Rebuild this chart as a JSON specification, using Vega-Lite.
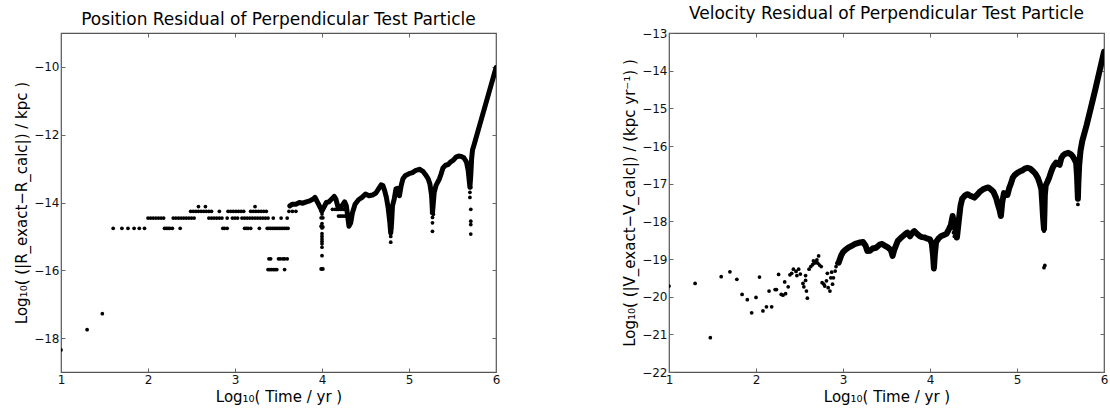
{
  "$schema": "https://vega.github.io/schema/vega-lite/v6.json",
  "background": "white",
  "padding": {"left": 14, "top": 4, "right": 6, "bottom": 4},
  "spacing": 121,
  "config": {
    "font": "DejaVu Sans",
    "view": {"stroke": "#555", "strokeWidth": 1.2},
    "axis": {"grid": false, "domain": false, "tickColor": "#666", "tickSize": -4, "labelColor": "#111", "labelFontSize": 12, "labelFont": "DejaVu Sans", "titleFont": "DejaVu Sans", "titleFontSize": 15, "titleFontWeight": "normal", "titleColor": "#000", "labelFlush": false, "labelOverlap": false, "labelPadding": 6},
    "title": {"fontSize": 17, "fontWeight": "normal", "color": "#000", "font": "DejaVu Sans", "offset": 4}
  },
  "datasets": {
    "posLine": [
      {"logt": 3.63, "logr": -14.1}, {"logt": 3.66, "logr": -14.05}, {"logt": 3.70, "logr": -14.05}, {"logt": 3.74, "logr": -14.0}, {"logt": 3.78, "logr": -14.02}, {"logt": 3.82, "logr": -13.98}, {"logt": 3.86, "logr": -13.95}, {"logt": 3.90, "logr": -13.9}, {"logt": 3.92, "logr": -13.85}, {"logt": 3.94, "logr": -13.95}, {"logt": 3.96, "logr": -14.05}, {"logt": 3.98, "logr": -14.15}, {"logt": 4.0, "logr": -14.25}, {"logt": 4.02, "logr": -14.15}, {"logt": 4.05, "logr": -14.0}, {"logt": 4.08, "logr": -13.98}, {"logt": 4.11, "logr": -13.9}, {"logt": 4.14, "logr": -13.82}, {"logt": 4.16, "logr": -13.9}, {"logt": 4.18, "logr": -14.1}, {"logt": 4.20, "logr": -14.15}, {"logt": 4.23, "logr": -14.1}, {"logt": 4.26, "logr": -13.98}, {"logt": 4.28, "logr": -14.1}, {"logt": 4.30, "logr": -14.5}, {"logt": 4.31, "logr": -14.7}, {"logt": 4.33, "logr": -14.6}, {"logt": 4.35, "logr": -14.3}, {"logt": 4.38, "logr": -14.05}, {"logt": 4.42, "logr": -13.92}, {"logt": 4.46, "logr": -13.85}, {"logt": 4.50, "logr": -13.75}, {"logt": 4.54, "logr": -13.8}, {"logt": 4.58, "logr": -13.78}, {"logt": 4.62, "logr": -13.72}, {"logt": 4.65, "logr": -13.6}, {"logt": 4.68, "logr": -13.48}, {"logt": 4.70, "logr": -13.5}, {"logt": 4.72, "logr": -13.65}, {"logt": 4.74, "logr": -13.85}, {"logt": 4.76, "logr": -14.15}, {"logt": 4.78, "logr": -14.6}, {"logt": 4.79, "logr": -14.9}, {"logt": 4.80, "logr": -14.6}, {"logt": 4.81, "logr": -14.1}, {"logt": 4.83, "logr": -13.9}, {"logt": 4.85, "logr": -13.6}, {"logt": 4.87, "logr": -13.58}, {"logt": 4.89, "logr": -13.8}, {"logt": 4.91, "logr": -13.5}, {"logt": 4.93, "logr": -13.3}, {"logt": 4.96, "logr": -13.2}, {"logt": 5.0, "logr": -13.15}, {"logt": 5.04, "logr": -13.12}, {"logt": 5.08, "logr": -13.05}, {"logt": 5.12, "logr": -13.02}, {"logt": 5.16, "logr": -13.08}, {"logt": 5.19, "logr": -13.18}, {"logt": 5.22, "logr": -13.3}, {"logt": 5.24, "logr": -13.45}, {"logt": 5.26, "logr": -13.8}, {"logt": 5.27, "logr": -14.3}, {"logt": 5.28, "logr": -14.0}, {"logt": 5.29, "logr": -13.7}, {"logt": 5.31, "logr": -13.5}, {"logt": 5.33, "logr": -13.4}, {"logt": 5.35, "logr": -13.3}, {"logt": 5.37, "logr": -13.15}, {"logt": 5.39, "logr": -12.98}, {"logt": 5.42, "logr": -12.9}, {"logt": 5.45, "logr": -12.88}, {"logt": 5.48, "logr": -12.8}, {"logt": 5.51, "logr": -12.75}, {"logt": 5.54, "logr": -12.66}, {"logt": 5.57, "logr": -12.63}, {"logt": 5.60, "logr": -12.64}, {"logt": 5.63, "logr": -12.68}, {"logt": 5.66, "logr": -12.8}, {"logt": 5.68, "logr": -13.05}, {"logt": 5.69, "logr": -13.3}, {"logt": 5.70, "logr": -13.55}, {"logt": 5.71, "logr": -13.2}, {"logt": 5.72, "logr": -12.7}, {"logt": 5.73, "logr": -12.45}, {"logt": 5.75, "logr": -12.28}, {"logt": 5.80, "logr": -11.83}, {"logt": 5.85, "logr": -11.38}, {"logt": 5.90, "logr": -10.93}, {"logt": 5.95, "logr": -10.48}, {"logt": 6.0, "logr": -10.02}
    ],
    "posDots": [
      {"logt": 1.0, "logr": -18.35}, {"logt": 1.30, "logr": -17.75}, {"logt": 1.475, "logr": -17.28},
      {"logt": 1.60, "logr": -14.76}, {"logt": 1.70, "logr": -14.76}, {"logt": 1.77, "logr": -14.76}, {"logt": 1.84, "logr": -14.76}, {"logt": 1.90, "logr": -14.76}, {"logt": 1.96, "logr": -14.76}, {"logt": 2.19, "logr": -14.76}, {"logt": 2.21, "logr": -14.76}, {"logt": 2.23, "logr": -14.76}, {"logt": 2.25, "logr": -14.76}, {"logt": 2.28, "logr": -14.76}, {"logt": 2.37, "logr": -14.76}, {"logt": 2.86, "logr": -14.76}, {"logt": 2.88, "logr": -14.76}, {"logt": 2.91, "logr": -14.76}, {"logt": 3.11, "logr": -14.76}, {"logt": 3.13, "logr": -14.76}, {"logt": 3.15, "logr": -14.76}, {"logt": 3.18, "logr": -14.76}, {"logt": 3.28, "logr": -14.76}, {"logt": 3.37, "logr": -14.76}, {"logt": 3.39, "logr": -14.76}, {"logt": 3.41, "logr": -14.76}, {"logt": 3.43, "logr": -14.76}, {"logt": 3.45, "logr": -14.76}, {"logt": 3.47, "logr": -14.76}, {"logt": 3.49, "logr": -14.76}, {"logt": 3.51, "logr": -14.76}, {"logt": 3.53, "logr": -14.76}, {"logt": 3.55, "logr": -14.76}, {"logt": 3.57, "logr": -14.76}, {"logt": 3.59, "logr": -14.76}, {"logt": 3.61, "logr": -14.76},
      {"logt": 2.00, "logr": -14.46}, {"logt": 2.03, "logr": -14.46}, {"logt": 2.06, "logr": -14.46}, {"logt": 2.09, "logr": -14.46}, {"logt": 2.12, "logr": -14.46}, {"logt": 2.15, "logr": -14.46}, {"logt": 2.18, "logr": -14.46}, {"logt": 2.29, "logr": -14.46}, {"logt": 2.32, "logr": -14.46}, {"logt": 2.35, "logr": -14.46}, {"logt": 2.38, "logr": -14.46}, {"logt": 2.41, "logr": -14.46}, {"logt": 2.44, "logr": -14.46}, {"logt": 2.47, "logr": -14.46}, {"logt": 2.50, "logr": -14.46}, {"logt": 2.53, "logr": -14.46}, {"logt": 2.70, "logr": -14.46}, {"logt": 2.73, "logr": -14.46}, {"logt": 2.76, "logr": -14.46}, {"logt": 2.79, "logr": -14.46}, {"logt": 2.82, "logr": -14.46}, {"logt": 2.85, "logr": -14.46}, {"logt": 2.91, "logr": -14.46}, {"logt": 2.97, "logr": -14.46}, {"logt": 3.00, "logr": -14.46}, {"logt": 3.03, "logr": -14.46}, {"logt": 3.08, "logr": -14.46}, {"logt": 3.11, "logr": -14.46}, {"logt": 3.14, "logr": -14.46}, {"logt": 3.17, "logr": -14.46}, {"logt": 3.20, "logr": -14.46}, {"logt": 3.23, "logr": -14.46}, {"logt": 3.26, "logr": -14.46}, {"logt": 3.29, "logr": -14.46}, {"logt": 3.32, "logr": -14.46}, {"logt": 3.35, "logr": -14.46}, {"logt": 3.38, "logr": -14.46}, {"logt": 3.44, "logr": -14.46}, {"logt": 3.53, "logr": -14.46}, {"logt": 3.60, "logr": -14.46},
      {"logt": 2.49, "logr": -14.26}, {"logt": 2.52, "logr": -14.26}, {"logt": 2.55, "logr": -14.26}, {"logt": 2.58, "logr": -14.26}, {"logt": 2.61, "logr": -14.26}, {"logt": 2.64, "logr": -14.26}, {"logt": 2.67, "logr": -14.26}, {"logt": 2.70, "logr": -14.26}, {"logt": 2.73, "logr": -14.26}, {"logt": 2.82, "logr": -14.26}, {"logt": 2.92, "logr": -14.26}, {"logt": 2.95, "logr": -14.26}, {"logt": 2.98, "logr": -14.26}, {"logt": 3.01, "logr": -14.26}, {"logt": 3.04, "logr": -14.26}, {"logt": 3.07, "logr": -14.26}, {"logt": 3.10, "logr": -14.26}, {"logt": 3.18, "logr": -14.26}, {"logt": 3.21, "logr": -14.26}, {"logt": 3.24, "logr": -14.26}, {"logt": 3.27, "logr": -14.26}, {"logt": 3.30, "logr": -14.26}, {"logt": 3.33, "logr": -14.26}, {"logt": 3.36, "logr": -14.26}, {"logt": 3.62, "logr": -14.26}, {"logt": 3.66, "logr": -14.26}, {"logt": 3.70, "logr": -14.26},
      {"logt": 2.58, "logr": -14.12}, {"logt": 2.66, "logr": -14.12}, {"logt": 3.23, "logr": -14.12},
      {"logt": 3.39, "logr": -15.66}, {"logt": 3.41, "logr": -15.66}, {"logt": 3.50, "logr": -15.66}, {"logt": 3.52, "logr": -15.66}, {"logt": 3.55, "logr": -15.66}, {"logt": 3.57, "logr": -15.66}, {"logt": 3.60, "logr": -15.66},
      {"logt": 3.38, "logr": -15.98}, {"logt": 3.40, "logr": -15.98}, {"logt": 3.42, "logr": -15.98}, {"logt": 3.44, "logr": -15.98}, {"logt": 3.46, "logr": -15.98}, {"logt": 3.48, "logr": -15.98}, {"logt": 3.57, "logr": -15.98},
      {"logt": 3.99, "logr": -14.26}, {"logt": 4.0, "logr": -14.34}, {"logt": 3.99, "logr": -14.45}, {"logt": 4.01, "logr": -14.45}, {"logt": 4.0, "logr": -14.62}, {"logt": 3.99, "logr": -14.7}, {"logt": 4.0, "logr": -14.75}, {"logt": 4.01, "logr": -14.72}, {"logt": 4.0, "logr": -14.92}, {"logt": 4.0, "logr": -15.0}, {"logt": 4.0, "logr": -15.08}, {"logt": 4.0, "logr": -15.15}, {"logt": 4.0, "logr": -15.22}, {"logt": 4.0, "logr": -15.32}, {"logt": 4.0, "logr": -15.57}, {"logt": 3.99, "logr": -15.96}, {"logt": 4.0, "logr": -15.96}, {"logt": 4.01, "logr": -15.96},
      {"logt": 4.12, "logr": -14.2}, {"logt": 4.15, "logr": -14.2}, {"logt": 4.17, "logr": -14.2}, {"logt": 4.19, "logr": -14.2}, {"logt": 4.21, "logr": -14.2}, {"logt": 4.23, "logr": -14.2}, {"logt": 4.25, "logr": -14.2}, {"logt": 4.27, "logr": -14.2}, {"logt": 4.19, "logr": -14.4}, {"logt": 4.21, "logr": -14.4}, {"logt": 4.23, "logr": -14.4}, {"logt": 4.25, "logr": -14.4}, {"logt": 4.27, "logr": -14.4},
      {"logt": 4.79, "logr": -14.3}, {"logt": 4.78, "logr": -14.45}, {"logt": 4.79, "logr": -14.6}, {"logt": 4.8, "logr": -14.75}, {"logt": 4.79, "logr": -14.9}, {"logt": 4.79, "logr": -15.0}, {"logt": 4.79, "logr": -15.17},
      {"logt": 5.27, "logr": -13.7}, {"logt": 5.26, "logr": -13.85}, {"logt": 5.27, "logr": -14.0}, {"logt": 5.28, "logr": -14.1}, {"logt": 5.27, "logr": -14.2}, {"logt": 5.26, "logr": -14.3}, {"logt": 5.28, "logr": -14.35}, {"logt": 5.27, "logr": -14.44}, {"logt": 5.27, "logr": -14.6}, {"logt": 5.27, "logr": -14.85},
      {"logt": 5.70, "logr": -13.0}, {"logt": 5.70, "logr": -13.2}, {"logt": 5.70, "logr": -13.4}, {"logt": 5.71, "logr": -13.56}, {"logt": 5.70, "logr": -13.7}, {"logt": 5.70, "logr": -13.85}, {"logt": 5.71, "logr": -14.2}, {"logt": 5.71, "logr": -14.55}, {"logt": 5.71, "logr": -14.65}, {"logt": 5.71, "logr": -14.93}
    ],
    "velLine": [
      {"logt": 2.95, "logv": -19.1}, {"logt": 2.98, "logv": -18.9}, {"logt": 3.0, "logv": -18.82}, {"logt": 3.03, "logv": -18.75}, {"logt": 3.06, "logv": -18.7}, {"logt": 3.1, "logv": -18.65}, {"logt": 3.14, "logv": -18.6}, {"logt": 3.18, "logv": -18.57}, {"logt": 3.23, "logv": -18.55}, {"logt": 3.26, "logv": -18.65}, {"logt": 3.28, "logv": -18.79}, {"logt": 3.31, "logv": -18.78}, {"logt": 3.34, "logv": -18.72}, {"logt": 3.38, "logv": -18.7}, {"logt": 3.42, "logv": -18.62}, {"logt": 3.45, "logv": -18.6}, {"logt": 3.49, "logv": -18.66}, {"logt": 3.52, "logv": -18.7}, {"logt": 3.55, "logv": -18.76}, {"logt": 3.57, "logv": -18.92}, {"logt": 3.59, "logv": -18.75}, {"logt": 3.63, "logv": -18.52}, {"logt": 3.66, "logv": -18.45}, {"logt": 3.69, "logv": -18.39}, {"logt": 3.72, "logv": -18.33}, {"logt": 3.74, "logv": -18.3}, {"logt": 3.77, "logv": -18.4}, {"logt": 3.80, "logv": -18.3}, {"logt": 3.82, "logv": -18.26}, {"logt": 3.85, "logv": -18.33}, {"logt": 3.88, "logv": -18.39}, {"logt": 3.91, "logv": -18.42}, {"logt": 3.94, "logv": -18.43}, {"logt": 3.97, "logv": -18.46}, {"logt": 4.0, "logv": -18.48}, {"logt": 4.02, "logv": -18.58}, {"logt": 4.035, "logv": -18.9}, {"logt": 4.045, "logv": -19.25}, {"logt": 4.055, "logv": -18.9}, {"logt": 4.07, "logv": -18.55}, {"logt": 4.1, "logv": -18.45}, {"logt": 4.13, "logv": -18.39}, {"logt": 4.16, "logv": -18.36}, {"logt": 4.19, "logv": -18.33}, {"logt": 4.22, "logv": -18.2}, {"logt": 4.24, "logv": -18.1}, {"logt": 4.26, "logv": -17.86}, {"logt": 4.28, "logv": -18.1}, {"logt": 4.3, "logv": -18.3}, {"logt": 4.31, "logv": -18.43}, {"logt": 4.33, "logv": -18.0}, {"logt": 4.35, "logv": -17.6}, {"logt": 4.37, "logv": -17.4}, {"logt": 4.40, "logv": -17.32}, {"logt": 4.43, "logv": -17.28}, {"logt": 4.47, "logv": -17.33}, {"logt": 4.51, "logv": -17.37}, {"logt": 4.54, "logv": -17.3}, {"logt": 4.57, "logv": -17.22}, {"logt": 4.61, "logv": -17.15}, {"logt": 4.64, "logv": -17.12}, {"logt": 4.67, "logv": -17.1}, {"logt": 4.70, "logv": -17.15}, {"logt": 4.73, "logv": -17.22}, {"logt": 4.76, "logv": -17.38}, {"logt": 4.78, "logv": -17.55}, {"logt": 4.80, "logv": -17.7}, {"logt": 4.815, "logv": -17.86}, {"logt": 4.83, "logv": -17.5}, {"logt": 4.85, "logv": -17.25}, {"logt": 4.87, "logv": -17.3}, {"logt": 4.89, "logv": -17.3}, {"logt": 4.91, "logv": -17.12}, {"logt": 4.93, "logv": -17.0}, {"logt": 4.95, "logv": -16.85}, {"logt": 4.97, "logv": -16.78}, {"logt": 5.0, "logv": -16.72}, {"logt": 5.03, "logv": -16.68}, {"logt": 5.06, "logv": -16.65}, {"logt": 5.09, "logv": -16.6}, {"logt": 5.12, "logv": -16.58}, {"logt": 5.15, "logv": -16.6}, {"logt": 5.18, "logv": -16.66}, {"logt": 5.21, "logv": -16.73}, {"logt": 5.24, "logv": -16.85}, {"logt": 5.26, "logv": -16.98}, {"logt": 5.28, "logv": -17.15}, {"logt": 5.29, "logv": -17.5}, {"logt": 5.30, "logv": -17.9}, {"logt": 5.31, "logv": -18.2}, {"logt": 5.315, "logv": -17.8}, {"logt": 5.32, "logv": -17.3}, {"logt": 5.33, "logv": -17.05}, {"logt": 5.35, "logv": -16.95}, {"logt": 5.37, "logv": -16.84}, {"logt": 5.39, "logv": -16.7}, {"logt": 5.41, "logv": -16.58}, {"logt": 5.43, "logv": -16.5}, {"logt": 5.45, "logv": -16.44}, {"logt": 5.47, "logv": -16.48}, {"logt": 5.49, "logv": -16.5}, {"logt": 5.51, "logv": -16.32}, {"logt": 5.53, "logv": -16.25}, {"logt": 5.56, "logv": -16.2}, {"logt": 5.59, "logv": -16.18}, {"logt": 5.62, "logv": -16.22}, {"logt": 5.64, "logv": -16.27}, {"logt": 5.66, "logv": -16.35}, {"logt": 5.68, "logv": -16.45}, {"logt": 5.69, "logv": -16.8}, {"logt": 5.70, "logv": -17.4}, {"logt": 5.705, "logv": -17.0}, {"logt": 5.715, "logv": -16.5}, {"logt": 5.73, "logv": -16.13}, {"logt": 5.75, "logv": -15.87}, {"logt": 5.80, "logv": -15.45}, {"logt": 5.85, "logv": -14.98}, {"logt": 5.90, "logv": -14.5}, {"logt": 5.95, "logv": -14.0}, {"logt": 6.0, "logv": -13.5}
    ],
    "velDots": [
      {"logt": 1.0, "logv": -19.72}, {"logt": 1.30, "logv": -19.65}, {"logt": 1.475, "logv": -21.09}, {"logt": 1.60, "logv": -19.47}, {"logt": 1.70, "logv": -19.34}, {"logt": 1.78, "logv": -19.54}, {"logt": 1.84, "logv": -19.94}, {"logt": 1.90, "logv": -20.08}, {"logt": 1.95, "logv": -20.43}, {"logt": 2.00, "logv": -20.02}, {"logt": 2.04, "logv": -19.48}, {"logt": 2.08, "logv": -20.38}, {"logt": 2.12, "logv": -20.27}, {"logt": 2.15, "logv": -19.85}, {"logt": 2.18, "logv": -20.27}, {"logt": 2.22, "logv": -19.81}, {"logt": 2.235, "logv": -19.81}, {"logt": 2.26, "logv": -19.41}, {"logt": 2.29, "logv": -19.94}, {"logt": 2.31, "logv": -19.96}, {"logt": 2.33, "logv": -19.61}, {"logt": 2.34, "logv": -19.92}, {"logt": 2.37, "logv": -19.74}, {"logt": 2.39, "logv": -19.42}, {"logt": 2.41, "logv": -19.38}, {"logt": 2.43, "logv": -19.27}, {"logt": 2.46, "logv": -19.33}, {"logt": 2.47, "logv": -19.44}, {"logt": 2.49, "logv": -19.27}, {"logt": 2.51, "logv": -19.4}, {"logt": 2.54, "logv": -19.65}, {"logt": 2.55, "logv": -19.74}, {"logt": 2.57, "logv": -19.57}, {"logt": 2.58, "logv": -19.85}, {"logt": 2.59, "logv": -20.04}, {"logt": 2.57, "logv": -19.44},
      {"logt": 2.61, "logv": -19.27}, {"logt": 2.63, "logv": -19.2}, {"logt": 2.65, "logv": -19.15}, {"logt": 2.67, "logv": -19.11}, {"logt": 2.69, "logv": -19.07}, {"logt": 2.71, "logv": -19.11}, {"logt": 2.72, "logv": -18.92}, {"logt": 2.73, "logv": -19.16}, {"logt": 2.75, "logv": -19.2}, {"logt": 2.66, "logv": -19.05}, {"logt": 2.70, "logv": -19.02},
      {"logt": 2.76, "logv": -19.63}, {"logt": 2.78, "logv": -19.67}, {"logt": 2.79, "logv": -19.72}, {"logt": 2.81, "logv": -19.58}, {"logt": 2.82, "logv": -19.38}, {"logt": 2.83, "logv": -19.76}, {"logt": 2.85, "logv": -19.85}, {"logt": 2.86, "logv": -19.5}, {"logt": 2.87, "logv": -19.35}, {"logt": 2.88, "logv": -19.67}, {"logt": 2.89, "logv": -19.5}, {"logt": 2.91, "logv": -19.32}, {"logt": 2.92, "logv": -19.2}, {"logt": 2.93, "logv": -19.11}, {"logt": 2.95, "logv": -19.02}, {"logt": 2.97, "logv": -18.95}, {"logt": 2.99, "logv": -18.9},
      {"logt": 4.04, "logv": -19.0}, {"logt": 4.045, "logv": -19.1}, {"logt": 4.05, "logv": -19.2}, {"logt": 4.045, "logv": -19.27},
      {"logt": 4.25, "logv": -17.95}, {"logt": 4.26, "logv": -18.1}, {"logt": 4.27, "logv": -18.3}, {"logt": 4.28, "logv": -18.4}, {"logt": 4.30, "logv": -18.45},
      {"logt": 4.81, "logv": -17.7}, {"logt": 4.82, "logv": -17.8}, {"logt": 4.815, "logv": -17.86},
      {"logt": 5.30, "logv": -17.6}, {"logt": 5.31, "logv": -17.75}, {"logt": 5.30, "logv": -17.9}, {"logt": 5.31, "logv": -18.05}, {"logt": 5.32, "logv": -18.15}, {"logt": 5.31, "logv": -18.26}, {"logt": 5.31, "logv": -19.23}, {"logt": 5.32, "logv": -19.17},
      {"logt": 5.70, "logv": -16.9}, {"logt": 5.69, "logv": -17.1}, {"logt": 5.70, "logv": -17.25}, {"logt": 5.70, "logv": -17.4}, {"logt": 5.70, "logv": -17.55}
    ]
  },
  "hconcat": [
    {
      "width": 435, "height": 339,
      "title": "Position Residual of Perpendicular Test Particle",
      "resolve": {"axis": {"x": "independent", "y": "independent"}},
      "layer": [
        {
          "data": {"name": "posLine"},
          "mark": {"type": "line", "color": "#000", "strokeWidth": 5, "strokeCap": "round", "strokeJoin": "round", "clip": true},
          "encoding": {
            "x": {"field": "logt", "type": "quantitative", "scale": {"domain": [1, 6], "nice": false, "zero": false}, "axis": {"orient": "bottom", "values": [1, 2, 3, 4, 5, 6], "title": "Log₁₀( Time / yr )", "format": "d"}},
            "y": {"field": "logr", "type": "quantitative", "scale": {"domain": [-19, -9], "nice": false, "zero": false}, "axis": {"orient": "left", "values": [-10, -12, -14, -16, -18], "title": "Log₁₀( (|R_exact−R_calc|) / kpc )", "format": "d"}}
          }
        },
        {
          "data": {"name": "posDots"},
          "mark": {"type": "circle", "color": "#000", "size": 14, "opacity": 1, "clip": true},
          "encoding": {
            "x": {"field": "logt", "type": "quantitative", "axis": {"orient": "top", "values": [1, 2, 3, 4, 5, 6], "labels": false, "title": null}},
            "y": {"field": "logr", "type": "quantitative", "axis": {"orient": "right", "values": [-10, -12, -14, -16, -18], "labels": false, "title": null}}
          }
        }
      ]
    },
    {
      "width": 435, "height": 339,
      "title": "Velocity Residual of Perpendicular Test Particle",
      "resolve": {"axis": {"x": "independent", "y": "independent"}},
      "layer": [
        {
          "data": {"name": "velLine"},
          "mark": {"type": "line", "color": "#000", "strokeWidth": 6, "strokeCap": "round", "strokeJoin": "round", "clip": true},
          "encoding": {
            "x": {"field": "logt", "type": "quantitative", "scale": {"domain": [1, 6], "nice": false, "zero": false}, "axis": {"orient": "bottom", "values": [1, 2, 3, 4, 5, 6], "title": "Log₁₀( Time / yr )", "format": "d"}},
            "y": {"field": "logv", "type": "quantitative", "scale": {"domain": [-22, -13], "nice": false, "zero": false}, "axis": {"orient": "left", "values": [-13, -14, -15, -16, -17, -18, -19, -20, -21, -22], "title": "Log₁₀( (|V_exact−V_calc|) / (kpc yr⁻¹) )", "format": "d"}}
          }
        },
        {
          "data": {"name": "velDots"},
          "mark": {"type": "circle", "color": "#000", "size": 14, "opacity": 1, "clip": true},
          "encoding": {
            "x": {"field": "logt", "type": "quantitative", "axis": {"orient": "top", "values": [1, 2, 3, 4, 5, 6], "labels": false, "title": null}},
            "y": {"field": "logv", "type": "quantitative", "axis": {"orient": "right", "values": [-13, -14, -15, -16, -17, -18, -19, -20, -21, -22], "labels": false, "title": null}}
          }
        }
      ]
    }
  ]
}
